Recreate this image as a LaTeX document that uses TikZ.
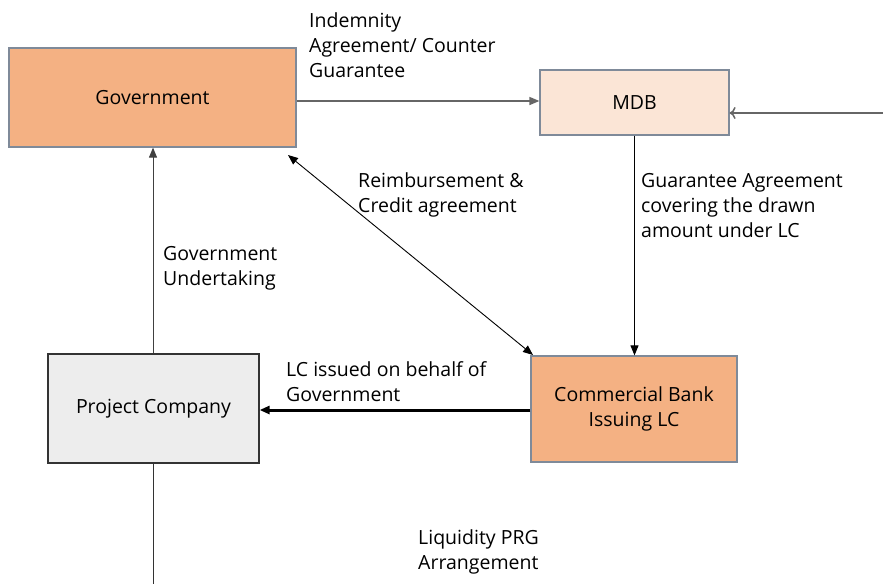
\documentclass[tikz,border=0pt]{standalone}
\usepackage{fontspec}
\setmainfont{Open Sans}
\usetikzlibrary{arrows.meta}
\definecolor{orng}{HTML}{F4B183}
\definecolor{peach}{HTML}{FBE5D6}
\definecolor{lgray}{HTML}{EDEDED}
\definecolor{bord}{HTML}{7F8A99}
\tikzset{
  box/.style={draw=bord, line width=1.2pt, inner sep=0pt, align=center, font=\fontsize{19.5}{25}\selectfont},
  lbl/.style={inner sep=0pt, align=left, anchor=base west, font=\fontsize{19.5}{25}\selectfont},
  tri/.style={-{Triangle[length=10pt,width=8pt]}},
}
\begin{document}
\begin{tikzpicture}[x=1pt,y=-1pt]
\useasboundingbox (0,0) rectangle (883,584);
\node[box, fill=orng, minimum width=287pt, minimum height=99pt] (gov) at (152.5,97.5) {Government};
\node[box, fill=peach, minimum width=189pt, minimum height=65pt] (mdb) at (634.5,102.5) {MDB};
\node[box, fill=orng, minimum width=206pt, minimum height=106pt] (cb) at (634,409) {Commercial Bank\\Issuing LC};
\node[box, draw=black!80, fill=lgray, minimum width=211pt, minimum height=109pt] (pc) at (153.5,408.5) {Project Company};
\coordinate (rin) at (883,113);
\coordinate (bot) at (153,584);
\coordinate (govbr) at (288,155);
\coordinate (cbtl) at (533,355);

\draw[tri, draw=black!60, line width=1.5pt] (gov.east |- 0,101) -- (mdb.west |- 0,101);
\draw[-{To[length=6pt,width=12pt]}, draw=black!60, line width=1.5pt] (rin) -- (mdb.east |- rin);
\draw[tri, line width=0.9pt] (mdb.south) -- (cb.north -| mdb.south);
\draw[tri, draw=black!75, line width=1pt] (pc.north -| 153,0) -- (gov.south -| 153,0);
\draw[{Triangle[length=10pt,width=8pt]}-{Triangle[length=10pt,width=8pt]}, line width=0.9pt] (govbr) -- (cbtl);
\draw[tri, line width=3pt] (cb.west |- 0,410) -- (pc.east |- 0,410);
\draw[draw=black!80, line width=1pt] (pc.south -| bot) -- (bot);

\node[lbl] (l1) at (309,77) {Indemnity\\Agreement/ Counter\\Guarantee};
\node[lbl] (l2) at (358,212) {Reimbursement \&\\Credit agreement};
\node[lbl] (l3) at (641,237) {Guarantee Agreement\\covering the drawn\\amount under LC};
\node[lbl] (l4) at (163,285) {Government\\Undertaking};
\node[lbl] (l5) at (286,401) {LC issued on behalf of\\Government};
\node[lbl] (l6) at (418,569) {Liquidity PRG\\Arrangement};
\end{tikzpicture}
\end{document}
